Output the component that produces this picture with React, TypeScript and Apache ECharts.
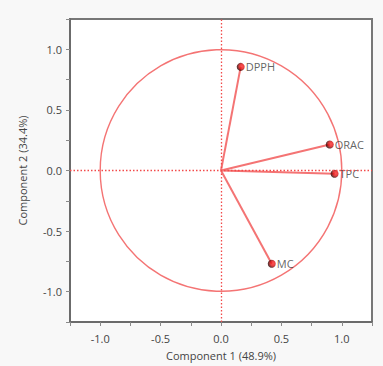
import React, { useEffect, useRef } from "react";
import * as echarts from "echarts";

const variables = ["DPPH", "ORAC", "TPC", "MC"];
const comp1 = [0.163, 0.9, 0.94, 0.42];
const comp2 = [0.855, 0.215, -0.027, -0.77];
const xAxisTitle = "Component 1 (48.9%)";
const yAxisTitle = "Component 2 (34.4%)";
const circleRadius = [1];

const RED = "#f47474";
const FONT = "Open Sans";

export default function App() {
  const ref = useRef<HTMLDivElement>(null);
  useEffect(() => {
    if (!ref.current) return;
    const chart = echarts.init(ref.current, undefined, { renderer: "svg" });
    const pts = variables.map((n, i) => ({ name: n, value: [comp1[i], comp2[i]] }));
    const tickFmt = (v: number) => {
      const r = Math.round(v * 100) / 100;
      if (Math.abs(r) > 1.01) return "";
      if (Math.abs(Math.round(r * 2) - r * 2) > 1e-6) return "";
      return r.toFixed(1);
    };
    const axisCommon = {
      type: "value",
      min: -1.25,
      max: 1.25,
      interval: 0.25,
      splitLine: { show: false },
      axisLine: { show: true, onZero: false, lineStyle: { color: "#6b6b6b", width: 2 } },
      axisTick: { show: true, length: 4, lineStyle: { color: "#8a8a8a" } },
      axisLabel: {
        formatter: tickFmt,
        color: "#444",
        fontFamily: FONT,
        fontSize: 11,
        showMinLabel: true,
        showMaxLabel: true,
      },
      nameLocation: "middle",
      nameTextStyle: { color: "#444", fontFamily: FONT, fontSize: 11 },
    };
    chart.setOption({
      animation: false,
      backgroundColor: "#f8f8f8",
      grid: {
        left: 70,
        right: 11,
        top: 19,
        bottom: 43,
        show: true,
        backgroundColor: "#ffffff",
        borderColor: "#777777",
        borderWidth: 2,
      },
      xAxis: { ...axisCommon, name: xAxisTitle, nameGap: 28, axisLabel: { ...axisCommon.axisLabel, margin: 11 } },
      yAxis: { ...axisCommon, name: yAxisTitle, nameGap: 42, axisLabel: { ...axisCommon.axisLabel, margin: 8 } },
      series: [
        {
          type: "custom",
          name: "circle",
          data: circleRadius.map((r) => [0, 0, r]),
          renderItem: (params: any, api: any) => {
            const c = api.coord([api.value(0), api.value(1)]);
            const s = api.size([api.value(2), api.value(2)]);
            return {
              type: "circle",
              shape: { cx: c[0], cy: c[1], r: s[0] },
              style: { fill: "none", stroke: RED, lineWidth: 1.4 },
              silent: true,
            };
          },
          markLine: {
            silent: true,
            symbol: "none",
            label: { show: false },
            lineStyle: { color: "#f24a4a", type: [1.5, 2], width: 1.3 },
            data: [{ xAxis: 0 }, { yAxis: 0 }],
          },
          z: 2,
        },
        {
          type: "custom",
          name: "vectors",
          data: pts.map((p) => p.value),
          renderItem: (params: any, api: any) => {
            const o = api.coord([0, 0]);
            const e = api.coord([api.value(0), api.value(1)]);
            return {
              type: "line",
              shape: { x1: o[0], y1: o[1], x2: e[0], y2: e[1] },
              style: { stroke: RED, lineWidth: 2 },
              silent: true,
            };
          },
          z: 3,
        },
        {
          type: "scatter",
          name: "loadings",
          data: pts,
          symbolSize: 8,
          itemStyle: {
            color: new echarts.graphic.RadialGradient(0.65, 0.45, 0.6, [
              { offset: 0, color: "#ff2a2a" },
              { offset: 0.5, color: "#e01010" },
              { offset: 1, color: "#2a0000" },
            ]),
          },
          label: {
            show: true,
            position: "right",
            distance: 1,
            formatter: (p: any) => p.name,
            color: "#3a3a3a",
            fontFamily: FONT,
            fontSize: 11,
          },
          z: 4,
        },
      ],
    });
    return () => chart.dispose();
  }, []);
  return <div ref={ref} style={{ width: 383, height: 366, position: "absolute", left: 0, top: 0 }} />;
}
